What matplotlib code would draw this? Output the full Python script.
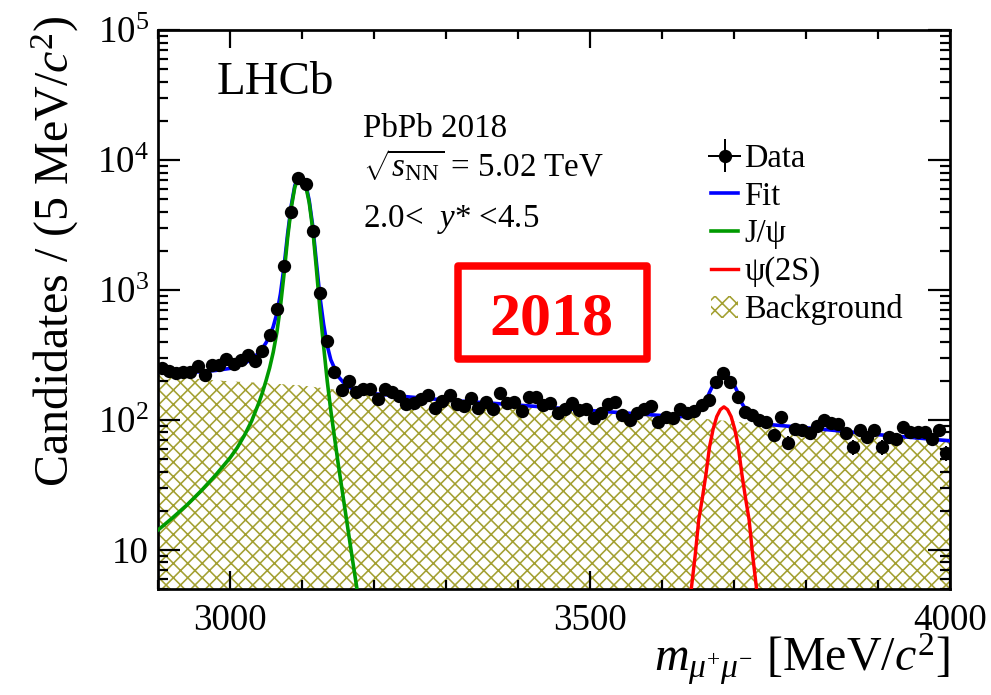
import numpy as np
import matplotlib
matplotlib.use('Agg')
import matplotlib.pyplot as plt
from matplotlib.patches import Rectangle, Patch
from matplotlib.ticker import MultipleLocator, LogLocator, NullFormatter

DPI = 130


def pt(px):
    return px * 72.0 / DPI


OLIVE = '#a3a032'
plt.rcParams['font.family'] = ['Liberation Serif', 'DejaVu Serif']
plt.rcParams['mathtext.fontset'] = 'custom'
plt.rcParams['mathtext.rm'] = 'Liberation Serif'
plt.rcParams['mathtext.it'] = 'Liberation Serif:italic'
plt.rcParams['mathtext.bf'] = 'Liberation Serif:bold'
plt.rcParams['hatch.linewidth'] = pt(1.6)
plt.rcParams['hatch.color'] = OLIVE

# ---------------- data ----------------
bin_centers = np.arange(2905, 4000, 10)
counts = [250, 239, 231, 232, 232, 260, 222, 265, 265, 293,
          270, 287, 316, 283, 338, 451, 711, 1530, 4000, 7230,
          6540, 2860, 943, 405, 233,
          171, 200, 165, 173, 173, 145, 172, 165, 153, 132,
          136, 144, 156, 123, 141, 156, 132, 128, 148, 123,
          138, 121, 162, 136, 137, 117, 150, 150, 130,
          134, 113, 121, 134, 119, 121, 103, 113, 132, 137,
          109, 100, 113, 121, 128, 97, 105, 103, 121, 114,
          118, 130, 143, 194, 229, 194, 150, 116,
          109, 99, 97, 77, 105, 67, 85, 84, 79, 89,
          100, 94, 93, 79, 62, 83, 74, 84, 62, 74,
          71, 88, 80, 81, 81, 71, 83, 56]

jpsi_mass = [2900, 2920, 2940, 2960, 2980, 3000, 3010, 3020, 3030, 3040,
             3045, 3050, 3055, 3060, 3065, 3070, 3075, 3080, 3085, 3090,
             3095, 3097, 3100, 3105, 3110, 3115, 3120, 3125, 3130, 3135,
             3140, 3150, 3160, 3170, 3180]
jpsi_vals = [14.2, 17.6, 22.1, 28.5, 37.6, 51, 61, 76, 98, 135,
             162, 200, 251, 331, 468, 741, 1318, 2512, 4266, 6166,
             7300, 7400, 7300, 6400, 4700, 2900, 1450, 700, 370, 200,
             118, 47, 20, 8.5, 3.7]

psi2s_mass = [3636, 3641, 3646, 3651, 3656, 3661, 3666, 3671, 3676, 3681,
              3686, 3691, 3696, 3701, 3706, 3711, 3716, 3721, 3726, 3731, 3736]
psi2s_vals = [2.9, 5.2, 9, 17, 25, 38, 62, 85, 106, 120,
              126, 120, 106, 85, 62, 38, 25, 17, 9, 5.2, 2.9]

bkg_mass = [2900, 2950, 3000, 3050, 3100, 3150, 3200, 3250, 3300, 3350,
            3400, 3450, 3500, 3550, 3600, 3650, 3700, 3750, 3800, 3850,
            3900, 3950, 4000]
bkg_vals = [222, 208, 198, 192, 184, 170, 159, 150, 142, 136,
            130, 124, 118, 113, 108, 103, 97, 92, 87, 82,
            77, 73, 69]

fit_mass = [2900, 2920, 2940, 2960, 2980, 3000, 3010, 3020, 3030, 3040,
            3045, 3050, 3055, 3060, 3065, 3070, 3075, 3080, 3085, 3090,
            3095, 3097, 3100, 3105, 3110, 3115, 3120, 3125, 3130, 3135,
            3140, 3150, 3160, 3170, 3180, 3200, 3250, 3300, 3350, 3400,
            3450, 3500, 3550, 3600, 3626, 3636, 3646, 3651, 3656, 3661,
            3666, 3671, 3676, 3681, 3686, 3691, 3696, 3701, 3706, 3711,
            3716, 3721, 3726, 3731, 3741, 3750, 3800, 3850, 3900, 3950,
            4000]
fit_vals = [236, 234, 233, 234.5, 240, 249, 258, 272, 293, 328,
            355, 392, 442, 521, 657, 929, 1505, 2698, 4451, 6350,
            7484, 7584, 7484, 6583, 4882, 3081, 1630, 878, 546, 374,
            290, 217, 187, 173, 166, 159, 150, 142, 136, 130,
            124, 118, 113, 108, 106, 107, 112, 120, 127, 140,
            163, 186, 206, 220, 225, 219, 204, 182, 159, 134,
            121, 112, 104, 100, 94, 92, 87, 82, 77, 73,
            69]

xtick_vals = [3000, 3500, 4000]
xtick_labels = ['3000', '3500', '4000']
ytick_vals = [10, 100, 1000, 10000, 100000]
ytick_labels = ['10', r'$\mathregular{10^{2}}$', r'$\mathregular{10^{3}}$',
                r'$\mathregular{10^{4}}$', r'$\mathregular{10^{5}}$']

# ---------------- figure ----------------
fig = plt.figure(figsize=((991 + 0.01) / DPI, (695 + 0.01) / DPI), dpi=DPI)
fig.patch.set_facecolor('white')
ax = fig.add_axes([158 / 991, 1 - 589 / 695, 792 / 991, 559 / 695])
ax.set_yscale('log')

ax.fill_between(bkg_mass, bkg_vals, 1, facecolor='none', edgecolor=OLIVE,
                hatch='xxx', linewidth=0, zorder=1)
l_fit, = ax.plot(fit_mass, fit_vals, color='#0000ff', lw=pt(3.6), zorder=3)
l_j, = ax.plot(jpsi_mass, jpsi_vals, color='#009a00', lw=pt(3.6), zorder=4)
l_p, = ax.plot(psi2s_mass, psi2s_vals, color='#ff0000', lw=pt(3.4), zorder=4)
eb = ax.errorbar(bin_centers, counts, yerr=np.sqrt(counts), xerr=5, fmt='o',
                 color='black', ms=pt(11.5), elinewidth=pt(2), capsize=0,
                 zorder=5)

ax.set_xlim(2900, 4000)
ax.set_ylim(5, 1e5)

ax.set_xticks(xtick_vals, labels=xtick_labels)
ax.xaxis.set_minor_locator(MultipleLocator(100))
ax.set_yticks(ytick_vals, labels=ytick_labels)
ax.yaxis.set_minor_locator(LogLocator(base=10, subs=np.arange(2, 10)))
ax.yaxis.set_minor_formatter(NullFormatter())

ax.tick_params(axis='both', which='both', direction='in', top=True,
               right=True, width=pt(2.2), labelsize=pt(37))
ax.tick_params(axis='x', which='major', length=pt(18), pad=pt(14))
ax.tick_params(axis='x', which='minor', length=pt(9))
ax.tick_params(axis='y', which='major', length=pt(22), pad=pt(9))
ax.tick_params(axis='y', which='minor', length=pt(10))
for s in ax.spines.values():
    s.set_linewidth(pt(2.7))

# labels
ax.text(-0.130, 1.027, 'Candidates / (5 MeV/$c^{2}$)', rotation=90,
        ha='center', va='top', fontsize=pt(48), transform=ax.transAxes)
ax.text(1.0, -0.148, r'$m_{\mu^{+}\mu^{-}}$ [MeV/$c^{2}$]', ha='right',
        va='baseline', fontsize=pt(48), transform=ax.transAxes)

# annotations
ax.text(0.074, 0.8855, 'LHCb', transform=ax.transAxes, fontsize=pt(47),
        va='baseline', ha='left')
ax.text(0.2593, 0.809, 'PbPb 2018', transform=ax.transAxes,
        fontsize=pt(33), va='baseline', ha='left')
ax.text(0.2593, 0.7376, r'$\sqrt{s_{\mathrm{NN}}}$ = 5.02 TeV',
        transform=ax.transAxes, fontsize=pt(33), va='baseline', ha='left')
ax.text(0.2593, 0.647, r'2.0<  $y$* <4.5', transform=ax.transAxes,
        fontsize=pt(33), va='baseline', ha='left')

ax.add_patch(Rectangle((0.3794, 0.4106), 0.2374, 0.1681,
                       transform=ax.transAxes, facecolor='white',
                       edgecolor='#ff0000', lw=pt(7.5), joinstyle='round',
                       zorder=6))
ax.text(0.497, 0.4544, '2018', transform=ax.transAxes, fontsize=pt(62),
        fontweight='bold', color='#ff0000', ha='center', va='baseline',
        zorder=7)

# legend
p_bkg = Patch(facecolor='none', edgecolor=OLIVE, hatch='xxx', lw=0)
ax.legend([eb, l_fit, l_j, l_p, p_bkg],
          ['Data', 'Fit', 'J/ψ', 'ψ(2S)', 'Background'],
          loc='upper left', bbox_to_anchor=(0.6985, 0.797), frameon=False,
          fontsize=pt(32.5), handlelength=0.82, handletextpad=0.2,
          labelspacing=0.22, borderpad=0, borderaxespad=0, handleheight=0.7)

fig.savefig('out.png', dpi=DPI, facecolor='white')
